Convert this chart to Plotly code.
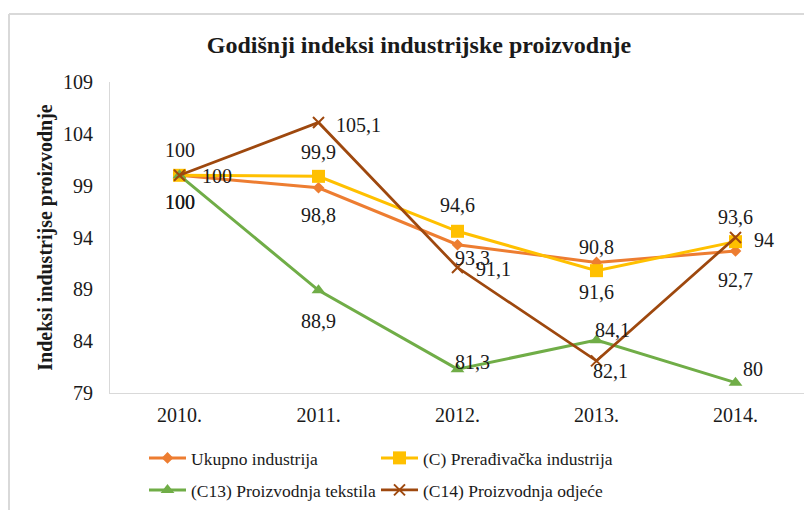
import plotly.graph_objects as go

years = ["2010.", "2011.", "2012.", "2013.", "2014."]
ukupno = [100, 98.8, 93.3, 91.6, 92.7]
preradjivacka = [100, 99.9, 94.6, 90.8, 93.6]
tekstil = [100, 88.9, 81.3, 84.1, 80]
odjeca = [100, 105.1, 91.1, 82.1, 94]

names = ["Ukupno industrija", "(C) Prerađivačka industrija",
         "(C13) Proizvodnja tekstila", "(C14) Proizvodnja odjeće"]
series = [ukupno, preradjivacka, tekstil, odjeca]

# styles
colors = ["#ED7D31", "#FFC000", "#70AD47", "#9E480E"]
symbols = ["diamond", "square", "triangle-up", "x-thin"]
msizes = [9, 13, 12, 11]
legends = ["legend", "legend2", "legend3", "legend4"]
# legend entry positions in screen pixels (left x, centre y)
legend_pos = [(144, 458), (376, 458), (144, 490), (376, 490)]
# label pixel offsets (dx, dy) per point, dy positive = down
offsets = [
    [(0, 27), (0, 27), (15, 13), (0, 30), (0, 29)],
    [(0, -25), (0, -24), (0, -26), (0, -24), (0, -25)],
    [(0, 27), (0, 31), (15, -7), (16, -10), (17, -14)],
    [(37, 1), (40, 3), (36, 1), (14, 10), (28, 2)],
]

FONT = "Liberation Serif"
TXT = "#1a1a1a"
OFF = 8  # page body margin in the browser

def fmt(v):
    if float(v).is_integer():
        return str(int(v))
    return str(v).replace(".", ",")

fig = go.Figure()
for name, vals, c, s, ms, lg in zip(names, series, colors, symbols, msizes, legends):
    marker = dict(symbol=s, size=ms, color=c)
    if s == "x-thin":
        marker["line"] = dict(color=c, width=2)
    fig.add_trace(go.Scatter(
        x=years, y=vals, name=name, mode="lines+markers",
        line=dict(color=c, width=3 if s != "x-thin" else 2.75),
        marker=marker, legend=lg, cliponaxis=False,
    ))

for vals, offs in zip(series, offsets):
    for i, (yv, (dx, dy)) in enumerate(zip(vals, offs)):
        fig.add_annotation(
            x=i, y=yv, xref="x", yref="y", text=fmt(yv), showarrow=False,
            xshift=dx, yshift=-dy, font=dict(family=FONT, size=20, color=TXT),
        )

# chart frame (top and left edges), in screen pixels -> paper coords
def px_x(p):
    return (p - 110) / 695
def px_y(p):
    return (393 - p) / 311

fig.add_shape(type="line", xref="paper", yref="paper", x0=px_x(9), x1=px_x(820),
              y0=px_y(14), y1=px_y(14), line=dict(color="#d9d9d9", width=2))
fig.add_shape(type="line", xref="paper", yref="paper", x0=px_x(9), x1=px_x(9),
              y0=px_y(14), y1=px_y(520), line=dict(color="#d9d9d9", width=2))

W, H = 812 - OFF, 510 - OFF

legend_layouts = {}
for lg, (lx, ly) in zip(legends, legend_pos):
    legend_layouts[lg] = dict(
        orientation="h", x=(lx - OFF) / W, xref="container", xanchor="left",
        y=1 - (ly - OFF) / H, yref="container", yanchor="middle",
        itemwidth=37, font=dict(family=FONT, size=17.5, color=TXT),
        bgcolor="rgba(0,0,0,0)",
    )

fig.update_layout(
    template="none",
    width=W, height=H,
    margin=dict(l=110 - OFF, r=7, t=82 - OFF, b=117, autoexpand=False),
    paper_bgcolor="white", plot_bgcolor="white",
    font=dict(family=FONT, size=18, color=TXT),
    title=dict(text="<b>Godišnji indeksi industrijske proizvodnje</b>",
               x=(419 - OFF) / W, xref="container", xanchor="center",
               y=1 - (45 - OFF) / H, yref="container", yanchor="middle",
               font=dict(family=FONT, size=24, color=TXT)),
    xaxis=dict(type="category", range=[-0.5, 4.5], showgrid=False,
               showline=True, linecolor="#d9d9d9", linewidth=1, automargin=False,
               ticks="", ticklabelstandoff=4,
               tickfont=dict(family=FONT, size=20, color=TXT)),
    yaxis=dict(range=[79, 109], tick0=79, dtick=5, showgrid=False, automargin=False,
               zeroline=False, showline=True, linecolor="#d9d9d9", linewidth=1,
               ticks="", ticklabelstandoff=12,
               tickfont=dict(family=FONT, size=20, color=TXT),
               title=dict(text="<b>Indeksi industrijse proizvodnje</b>",
                          standoff=5, font=dict(family=FONT, size=20, color=TXT))),
    showlegend=True,
    **legend_layouts,
)

fig.write_html("out.html")
